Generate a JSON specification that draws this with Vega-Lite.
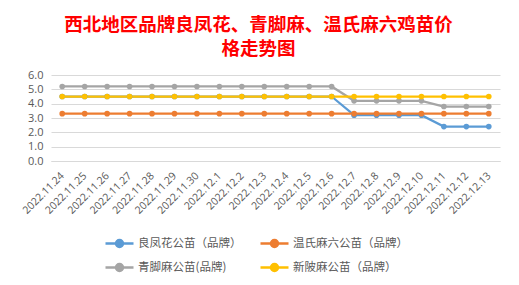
{
  "$schema": "https://vega.github.io/schema/vega-lite/v6.json",
  "width": 449,
  "height": 86,
  "autosize": {"type": "none"},
  "padding": {"left": 51, "top": 75, "right": 19, "bottom": 124},
  "background": "#ffffff",
  "title": {
    "text": ["西北地区品牌良凤花、青脚麻、温氏麻六鸡苗价", "格走势图"],
    "color": "#FF0000",
    "font": "Noto Sans CJK SC",
    "fontWeight": "bold",
    "fontSize": 18.5,
    "lineHeight": 24,
    "anchor": "middle",
    "frame": "group",
    "dx": -17,
    "offset": 11
  },
  "data": {
    "values": [
      {"date": "2022.11.24", "series": "良凤花公苗（品牌）", "value": 4.5},
      {"date": "2022.11.25", "series": "良凤花公苗（品牌）", "value": 4.5},
      {"date": "2022.11.26", "series": "良凤花公苗（品牌）", "value": 4.5},
      {"date": "2022.11.27", "series": "良凤花公苗（品牌）", "value": 4.5},
      {"date": "2022.11.28", "series": "良凤花公苗（品牌）", "value": 4.5},
      {"date": "2022.11.29", "series": "良凤花公苗（品牌）", "value": 4.5},
      {"date": "2022.11.30", "series": "良凤花公苗（品牌）", "value": 4.5},
      {"date": "2022.12.1", "series": "良凤花公苗（品牌）", "value": 4.5},
      {"date": "2022.12.2", "series": "良凤花公苗（品牌）", "value": 4.5},
      {"date": "2022.12.3", "series": "良凤花公苗（品牌）", "value": 4.5},
      {"date": "2022.12.4", "series": "良凤花公苗（品牌）", "value": 4.5},
      {"date": "2022.12.5", "series": "良凤花公苗（品牌）", "value": 4.5},
      {"date": "2022.12.6", "series": "良凤花公苗（品牌）", "value": 4.5},
      {"date": "2022.12.7", "series": "良凤花公苗（品牌）", "value": 3.2},
      {"date": "2022.12.8", "series": "良凤花公苗（品牌）", "value": 3.2},
      {"date": "2022.12.9", "series": "良凤花公苗（品牌）", "value": 3.2},
      {"date": "2022.12.10", "series": "良凤花公苗（品牌）", "value": 3.2},
      {"date": "2022.12.11", "series": "良凤花公苗（品牌）", "value": 2.4},
      {"date": "2022.12.12", "series": "良凤花公苗（品牌）", "value": 2.4},
      {"date": "2022.12.13", "series": "良凤花公苗（品牌）", "value": 2.4},
      {"date": "2022.11.24", "series": "温氏麻六公苗（品牌）", "value": 3.3},
      {"date": "2022.11.25", "series": "温氏麻六公苗（品牌）", "value": 3.3},
      {"date": "2022.11.26", "series": "温氏麻六公苗（品牌）", "value": 3.3},
      {"date": "2022.11.27", "series": "温氏麻六公苗（品牌）", "value": 3.3},
      {"date": "2022.11.28", "series": "温氏麻六公苗（品牌）", "value": 3.3},
      {"date": "2022.11.29", "series": "温氏麻六公苗（品牌）", "value": 3.3},
      {"date": "2022.11.30", "series": "温氏麻六公苗（品牌）", "value": 3.3},
      {"date": "2022.12.1", "series": "温氏麻六公苗（品牌）", "value": 3.3},
      {"date": "2022.12.2", "series": "温氏麻六公苗（品牌）", "value": 3.3},
      {"date": "2022.12.3", "series": "温氏麻六公苗（品牌）", "value": 3.3},
      {"date": "2022.12.4", "series": "温氏麻六公苗（品牌）", "value": 3.3},
      {"date": "2022.12.5", "series": "温氏麻六公苗（品牌）", "value": 3.3},
      {"date": "2022.12.6", "series": "温氏麻六公苗（品牌）", "value": 3.3},
      {"date": "2022.12.7", "series": "温氏麻六公苗（品牌）", "value": 3.3},
      {"date": "2022.12.8", "series": "温氏麻六公苗（品牌）", "value": 3.3},
      {"date": "2022.12.9", "series": "温氏麻六公苗（品牌）", "value": 3.3},
      {"date": "2022.12.10", "series": "温氏麻六公苗（品牌）", "value": 3.3},
      {"date": "2022.12.11", "series": "温氏麻六公苗（品牌）", "value": 3.3},
      {"date": "2022.12.12", "series": "温氏麻六公苗（品牌）", "value": 3.3},
      {"date": "2022.12.13", "series": "温氏麻六公苗（品牌）", "value": 3.3},
      {"date": "2022.11.24", "series": "青脚麻公苗(品牌)", "value": 5.2},
      {"date": "2022.11.25", "series": "青脚麻公苗(品牌)", "value": 5.2},
      {"date": "2022.11.26", "series": "青脚麻公苗(品牌)", "value": 5.2},
      {"date": "2022.11.27", "series": "青脚麻公苗(品牌)", "value": 5.2},
      {"date": "2022.11.28", "series": "青脚麻公苗(品牌)", "value": 5.2},
      {"date": "2022.11.29", "series": "青脚麻公苗(品牌)", "value": 5.2},
      {"date": "2022.11.30", "series": "青脚麻公苗(品牌)", "value": 5.2},
      {"date": "2022.12.1", "series": "青脚麻公苗(品牌)", "value": 5.2},
      {"date": "2022.12.2", "series": "青脚麻公苗(品牌)", "value": 5.2},
      {"date": "2022.12.3", "series": "青脚麻公苗(品牌)", "value": 5.2},
      {"date": "2022.12.4", "series": "青脚麻公苗(品牌)", "value": 5.2},
      {"date": "2022.12.5", "series": "青脚麻公苗(品牌)", "value": 5.2},
      {"date": "2022.12.6", "series": "青脚麻公苗(品牌)", "value": 5.2},
      {"date": "2022.12.7", "series": "青脚麻公苗(品牌)", "value": 4.2},
      {"date": "2022.12.8", "series": "青脚麻公苗(品牌)", "value": 4.2},
      {"date": "2022.12.9", "series": "青脚麻公苗(品牌)", "value": 4.2},
      {"date": "2022.12.10", "series": "青脚麻公苗(品牌)", "value": 4.2},
      {"date": "2022.12.11", "series": "青脚麻公苗(品牌)", "value": 3.8},
      {"date": "2022.12.12", "series": "青脚麻公苗(品牌)", "value": 3.8},
      {"date": "2022.12.13", "series": "青脚麻公苗(品牌)", "value": 3.8},
      {"date": "2022.11.24", "series": "新陂麻公苗（品牌）", "value": 4.5},
      {"date": "2022.11.25", "series": "新陂麻公苗（品牌）", "value": 4.5},
      {"date": "2022.11.26", "series": "新陂麻公苗（品牌）", "value": 4.5},
      {"date": "2022.11.27", "series": "新陂麻公苗（品牌）", "value": 4.5},
      {"date": "2022.11.28", "series": "新陂麻公苗（品牌）", "value": 4.5},
      {"date": "2022.11.29", "series": "新陂麻公苗（品牌）", "value": 4.5},
      {"date": "2022.11.30", "series": "新陂麻公苗（品牌）", "value": 4.5},
      {"date": "2022.12.1", "series": "新陂麻公苗（品牌）", "value": 4.5},
      {"date": "2022.12.2", "series": "新陂麻公苗（品牌）", "value": 4.5},
      {"date": "2022.12.3", "series": "新陂麻公苗（品牌）", "value": 4.5},
      {"date": "2022.12.4", "series": "新陂麻公苗（品牌）", "value": 4.5},
      {"date": "2022.12.5", "series": "新陂麻公苗（品牌）", "value": 4.5},
      {"date": "2022.12.6", "series": "新陂麻公苗（品牌）", "value": 4.5},
      {"date": "2022.12.7", "series": "新陂麻公苗（品牌）", "value": 4.5},
      {"date": "2022.12.8", "series": "新陂麻公苗（品牌）", "value": 4.5},
      {"date": "2022.12.9", "series": "新陂麻公苗（品牌）", "value": 4.5},
      {"date": "2022.12.10", "series": "新陂麻公苗（品牌）", "value": 4.5},
      {"date": "2022.12.11", "series": "新陂麻公苗（品牌）", "value": 4.5},
      {"date": "2022.12.12", "series": "新陂麻公苗（品牌）", "value": 4.5},
      {"date": "2022.12.13", "series": "新陂麻公苗（品牌）", "value": 4.5}
    ]
  },
  "mark": {
    "type": "line",
    "strokeWidth": 2.25,
    "point": {"filled": true, "size": 32, "opacity": 1}
  },
  "encoding": {
    "x": {
      "field": "date",
      "type": "nominal",
      "sort": null,
      "scale": {"type": "point", "padding": 0.5},
      "axis": {
        "title": null,
        "labelAngle": -45,
        "labelAlign": "right",
        "labelBaseline": "middle",
        "labelPadding": 13,
        "labelFontSize": 10.5,
        "labelColor": "#595959",
        "labelFont": "Open Sans",
        "ticks": false,
        "domain": true,
        "domainColor": "#D9D9D9",
        "grid": false
      }
    },
    "y": {
      "field": "value",
      "type": "quantitative",
      "scale": {"domain": [0, 6]},
      "axis": {
        "title": null,
        "values": [0, 1, 2, 3, 4, 5, 6],
        "format": ".1f",
        "labelFontSize": 11,
        "labelColor": "#595959",
        "labelFont": "Open Sans",
        "labelPadding": 8,
        "ticks": false,
        "domain": false,
        "grid": true,
        "gridColor": "#D9D9D9",
        "gridWidth": 1
      }
    },
    "color": {
      "field": "series",
      "type": "nominal",
      "sort": ["良凤花公苗（品牌）", "温氏麻六公苗（品牌）", "青脚麻公苗(品牌)", "新陂麻公苗（品牌）"],
      "scale": {
        "domain": ["良凤花公苗（品牌）", "温氏麻六公苗（品牌）", "青脚麻公苗(品牌)", "新陂麻公苗（品牌）"],
        "range": ["#5B9BD5", "#ED7D31", "#A5A5A5", "#FFC000"]
      },
      "legend": {
        "title": null,
        "orient": "none",
        "legendX": 53,
        "legendY": 153,
        "direction": "horizontal",
        "columns": 2,
        "columnPadding": 13,
        "rowPadding": -10.5,
        "padding": 0,
        "symbolType": "M-1,0L1,0M-0.25,0a0.25,0.25 0 1,0 0.5,0a0.25,0.25 0 1,0 -0.5,0",
        "symbolSize": 784,
        "symbolStrokeWidth": 2.5,
        "symbolOffset": 0,
        "labelOffset": 3,
        "labelFontSize": 11.5,
        "labelColor": "#595959",
        "labelFont": "Noto Sans CJK SC",
        "labelLimit": 300,
        "encode": {
          "symbols": {"update": {"fill": {"scale": "color", "field": "value"}, "fillOpacity": {"value": 1}}}
        }
      }
    }
  },
  "config": {
    "view": {"stroke": null}
  }
}
